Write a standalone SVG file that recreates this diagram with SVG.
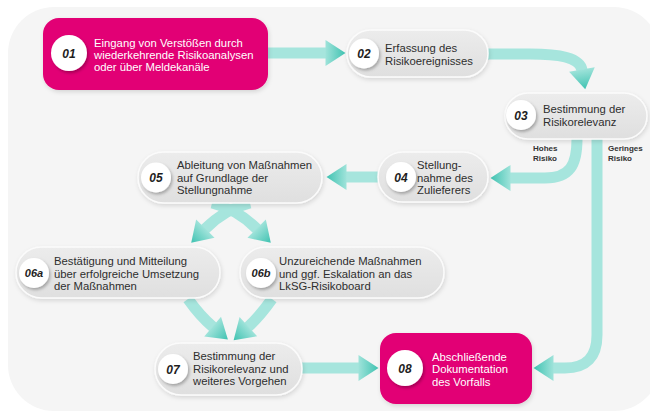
<svg xmlns="http://www.w3.org/2000/svg" width="650" height="412" viewBox="0 0 650 412">
<defs>
<linearGradient id="ng" x1="0" y1="0" x2="0" y2="1"><stop offset="0" stop-color="#ececec"/><stop offset="1" stop-color="#dfdfdf"/></linearGradient>
<linearGradient id="tg" x1="0" y1="0" x2="1" y2="0"><stop offset="0" stop-color="#9fe3da"/><stop offset="1" stop-color="#3fc2b1"/></linearGradient>
<filter id="sh" x="-20%" y="-30%" width="140%" height="170%"><feDropShadow dx="1" dy="2" stdDeviation="2" flood-color="#000" flood-opacity="0.13"/></filter>
<filter id="csh" x="-40%" y="-40%" width="190%" height="190%"><feDropShadow dx="1.5" dy="2" stdDeviation="1.8" flood-color="#000" flood-opacity="0.28"/></filter>
<marker id="ah" markerUnits="userSpaceOnUse" markerWidth="22" markerHeight="26" viewBox="0 0 20 26" refX="0.5" refY="13" orient="auto" overflow="visible"><path d="M0,0 L20,13 L0,26 z" fill="url(#tg)"/></marker>
<style>
.bar{fill:none;stroke:#a6e5dd;stroke-width:11;marker-end:url(#ah)}
.gn{fill:url(#ng);stroke:#fbfbfb;stroke-width:1.5;filter:url(#sh)}
.mn{fill:#e20074;filter:url(#sh)}
.c{fill:#fff;filter:url(#csh)}
.num{font-family:"Liberation Sans",Arial,sans-serif;font-size:12px;font-weight:bold;font-style:italic;fill:#1e1e1e;text-anchor:middle}
.t{font-family:"Liberation Sans",Arial,sans-serif;font-size:11.3px;fill:#2e2e2e}
.w{fill:#fff}
.lb{font-family:"Liberation Sans",Arial,sans-serif;font-size:8px;font-weight:bold;fill:#333}
</style>
</defs>
<rect x="0" y="0" width="650" height="412" fill="#fff"/>
<rect x="8" y="7" width="652" height="404" rx="46" fill="#f5f5f5"/>
<g id="connectors">
<path class="bar" d="M268,53 H326"/>
<path class="bar" d="M488,54 L530,54 C560,54 580,58 582,70"/>
<path class="bar" d="M577,139 C577,165 570,178 545,178 L510,178"/>
<path class="bar" d="M597,139 L597,335 Q597,368 565,368 L553,368"/>
<path class="bar" d="M378,177 L346,177"/>
<path class="bar" d="M250,203 Q225,209 205,229"/>
<path class="bar" d="M212,203 Q237,209 257,229"/>
<path class="bar" d="M188,299 Q200,316 213,327"/>
<path class="bar" d="M272,299 Q260,316 248,327"/>
<path class="bar" d="M302,368 L359,368"/>
<text class="lb" x="533" y="151">Hohes</text>
<text class="lb" x="533" y="161">Risiko</text>
<text class="lb" x="608" y="151">Geringes</text>
<text class="lb" x="608" y="161">Risiko</text>
</g>
<g id="n01">
<rect class="mn" x="43" y="18" width="225" height="72" rx="16"/>
<circle class="c" cx="69" cy="53" r="18"/>
<text class="num" x="69" y="57.5">01</text>
<text class="t w" x="94" y="47">Eingang von Verstößen durch</text>
<text class="t w" x="94" y="59">wiederkehrende Risikoanalysen</text>
<text class="t w" x="94" y="71">oder über Meldekanäle</text>
</g>
<g id="n02">
<rect class="gn" x="347" y="30" width="141" height="47" rx="23.5"/>
<circle class="c" cx="364" cy="53.5" r="15"/>
<text class="num" x="364" y="58">02</text>
<text class="t" x="385" y="52">Erfassung des</text>
<text class="t" x="385" y="65">Risikoereignisses</text>
</g>
<g id="n03">
<rect class="gn" x="505" y="93" width="142" height="46" rx="23"/>
<circle class="c" cx="521" cy="115" r="15"/>
<text class="num" x="521" y="119.5">03</text>
<text class="t" x="543" y="113">Bestimmung der</text>
<text class="t" x="543" y="126">Risikorelevanz</text>
</g>
<g id="n04">
<rect class="gn" x="378" y="152" width="110" height="50" rx="25"/>
<circle class="c" cx="401" cy="177" r="15"/>
<text class="num" x="401" y="181.5">04</text>
<text class="t" x="417" y="169">Stellung-</text>
<text class="t" x="417" y="181.5">nahme des</text>
<text class="t" x="417" y="194">Zulieferers</text>
</g>
<g id="n05">
<rect class="gn" x="138" y="152" width="184" height="51" rx="25.5"/>
<circle class="c" cx="156" cy="177.5" r="15"/>
<text class="num" x="156" y="182">05</text>
<text class="t" x="177" y="169">Ableitung von Maßnahmen</text>
<text class="t" x="177" y="181.5">auf Grundlage der</text>
<text class="t" x="177" y="194">Stellungnahme</text>
</g>
<g id="n06a">
<rect class="gn" x="16" y="247" width="204" height="51" rx="25.5"/>
<circle class="c" cx="34" cy="273" r="15"/>
<text class="num" x="34" y="277" style="font-size:11px">06a</text>
<text class="t" x="54" y="265">Bestätigung und Mitteilung</text>
<text class="t" x="54" y="277.5">über erfolgreiche Umsetzung</text>
<text class="t" x="54" y="290">der Maßnahmen</text>
</g>
<g id="n06b">
<rect class="gn" x="240" y="247" width="204" height="51" rx="25.5"/>
<circle class="c" cx="261" cy="273" r="15"/>
<text class="num" x="261" y="277" style="font-size:11px">06b</text>
<text class="t" x="279" y="265">Unzureichende Maßnahmen</text>
<text class="t" x="279" y="277.5">und ggf. Eskalation an das</text>
<text class="t" x="279" y="290">LkSG-Risikoboard</text>
</g>
<g id="n07">
<rect class="gn" x="155" y="343" width="147" height="52" rx="26"/>
<circle class="c" cx="173" cy="369" r="15"/>
<text class="num" x="173" y="373.5">07</text>
<text class="t" x="193" y="360">Bestimmung der</text>
<text class="t" x="193" y="372.5">Risikorelevanz und</text>
<text class="t" x="193" y="385">weiteres Vorgehen</text>
</g>
<g id="n08">
<rect class="mn" x="380" y="333" width="152" height="71" rx="16"/>
<circle class="c" cx="405" cy="368" r="18"/>
<text class="num" x="405" y="372.5">08</text>
<text class="t w" x="432" y="361">Abschließende</text>
<text class="t w" x="432" y="373">Dokumentation</text>
<text class="t w" x="432" y="386">des Vorfalls</text>
</g>
</svg>
